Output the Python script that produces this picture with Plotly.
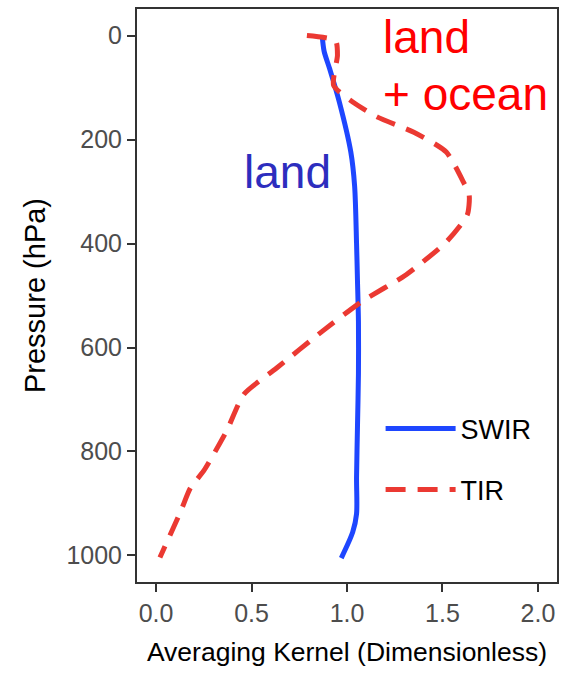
import plotly.graph_objects as go

# SWIR averaging kernel (land)
swir_ak = [0.87, 0.88, 0.91, 0.96, 1.02, 1.04, 1.05, 1.055, 1.06, 1.06, 1.055, 1.05, 1.05, 1.03, 0.97]
swir_p = [0, 30, 65, 128, 224, 290, 400, 473, 550, 650, 750, 850, 920, 955, 1005]

# TIR averaging kernel (land + ocean)
tir_ak = [0.79, 0.94, 0.95, 0.93, 1.03, 1.16, 1.35, 1.52, 1.61, 1.64, 1.63, 1.52, 1.31, 1.08, 0.87, 0.63, 0.46, 0.37, 0.25, 0.18, 0.13, 0.02]
tir_p = [0, 10, 38, 96, 128, 157, 186, 224, 282, 307, 345, 397, 460, 511, 569, 640, 690, 760, 837, 870, 914, 1004]

x_ticks = [0.0, 0.5, 1.0, 1.5, 2.0]
x_ticklabels = ["0.0", "0.5", "1.0", "1.5", "2.0"]
y_ticks = [0, 200, 400, 600, 800, 1000]

ARIAL = "Liberation Sans, Arial, sans-serif"

fig = go.Figure()
fig.add_trace(go.Scatter(
    x=swir_ak, y=swir_p, mode="lines", name="SWIR", legendgroup="a",
    line=dict(color="rgb(30,70,255)", width=5, shape="spline", smoothing=0.8),
))
fig.add_trace(go.Scatter(
    x=tir_ak, y=tir_p, mode="lines", name="TIR", legendgroup="b",
    line=dict(color="rgb(235,57,50)", width=5, dash="20px,12px", shape="spline", smoothing=0.6),
))

fig.add_annotation(x=0.69, y=262, xref="x", yref="y", text="land", showarrow=False,
                   font=dict(family=ARIAL, size=46, color="rgb(45,45,190)"),
                   xanchor="center", yanchor="middle")
fig.add_annotation(x=1.178, y=2, xref="x", yref="y", text="land", showarrow=False,
                   font=dict(family=ARIAL, size=46, color="rgb(255,0,0)"),
                   xanchor="left", yanchor="middle")
fig.add_annotation(x=1.178, y=113, xref="x", yref="y", text="+ ocean", showarrow=False,
                   font=dict(family=ARIAL, size=46, color="rgb(255,0,0)"),
                   xanchor="left", yanchor="middle")

fig.update_layout(
    width=571, height=682,
    margin=dict(l=137, r=14, t=7, b=100),
    plot_bgcolor="white", paper_bgcolor="white",
    showlegend=True,
    legend=dict(x=0.58, y=0.31, xanchor="left", yanchor="top",
                font=dict(family=ARIAL, size=27, color="black"),
                bgcolor="rgba(0,0,0,0)", itemwidth=70, tracegroupgap=23,
                traceorder="grouped"),
)
fig.update_xaxes(
    range=[-0.1, 2.1], tickvals=x_ticks, ticktext=x_ticklabels,
    showgrid=False, zeroline=False,
    showline=True, linecolor="#333333", linewidth=2, mirror=True,
    ticks="outside", ticklen=8, tickwidth=2, tickcolor="#333333",
    tickfont=dict(family=ARIAL, size=25, color="#4d4d4d"),
    title=dict(text="Averaging Kernel (Dimensionless)", font=dict(family=ARIAL, size=26.5, color="black"), standoff=16),
)
fig.update_yaxes(
    range=[1051, -51], tickvals=y_ticks,
    showgrid=False, zeroline=False,
    showline=True, linecolor="#333333", linewidth=2, mirror=True,
    ticks="outside", ticklen=8, tickwidth=2, tickcolor="#333333",
    tickfont=dict(family=ARIAL, size=25, color="#4d4d4d"),
    title=dict(text="Pressure (hPa)", font=dict(family=ARIAL, size=29, color="black"), standoff=12),
)

fig.write_html("out.html")
